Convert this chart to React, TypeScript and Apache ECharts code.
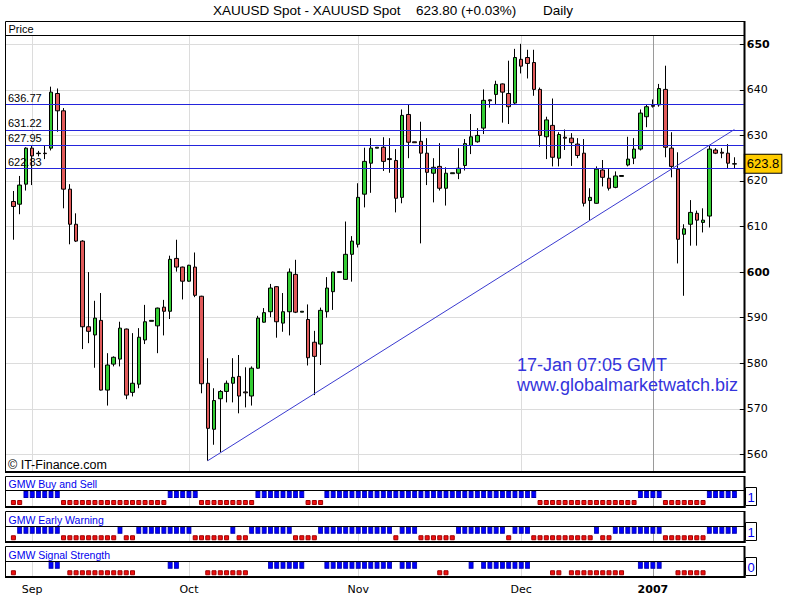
import React, { useEffect, useRef } from "react";
import * as echarts from "echarts";

// One daily candle per slot: [open, close, low, high]
const candles: number[][] = [
  [615.5, 614.4, 607.1, 617.8], // 0
  [614.9, 619.1, 612.7, 621.1],
  [619.3, 627.2, 617.9, 627.4],
  [627.2, 625.5, 619.1, 627.7], // Sep
  [626.0, 626.1, 625.4, 626.6],
  [626.1, 626.0, 624.8, 627.7],
  [627.2, 639.5, 626.7, 640.7],
  [639.2, 635.4, 630.8, 640.3],
  [635.4, 618.2, 614.0, 636.0],
  [618.2, 610.5, 606.1, 619.3],
  [610.5, 606.8, 606.6, 612.9], // 10
  [606.8, 588.0, 583.1, 607.0],
  [588.0, 587.0, 584.4, 600.0],
  [586.2, 589.9, 579.0, 593.7],
  [589.4, 574.1, 574.0, 595.4],
  [574.1, 579.6, 570.7, 582.2],
  [579.8, 581.3, 579.3, 581.5],
  [580.9, 587.7, 579.3, 589.1],
  [587.5, 573.0, 572.1, 587.6],
  [573.6, 575.6, 572.7, 586.6],
  [575.4, 585.7, 574.5, 587.7], // 20
  [585.1, 589.1, 584.2, 592.8],
  [589.2, 589.4, 589.2, 589.4],
  [588.2, 592.1, 582.2, 592.2],
  [592.3, 591.4, 586.1, 593.9],
  [591.4, 602.8, 589.7, 603.6],
  [603.0, 601.1, 600.1, 607.1],
  [601.1, 598.0, 594.0, 601.2],
  [598.0, 601.5, 597.9, 601.6], // Oct
  [601.1, 594.9, 594.5, 604.3],
  [594.7, 575.5, 573.4, 594.8], // 30
  [575.6, 565.7, 558.6, 581.1],
  [565.5, 571.8, 562.1, 574.5],
  [572.2, 573.8, 560.5, 574.1],
  [573.8, 575.6, 571.4, 576.2],
  [575.6, 576.9, 571.4, 581.1],
  [577.1, 572.8, 569.0, 581.8],
  [573.7, 573.5, 570.3, 579.1],
  [572.8, 578.9, 570.7, 579.3],
  [578.9, 589.9, 578.8, 590.4],
  [589.0, 591.1, 588.9, 592.1], // 40
  [591.3, 596.5, 590.1, 597.4],
  [596.8, 589.1, 585.6, 596.9],
  [588.8, 591.3, 586.9, 595.4],
  [591.3, 600.0, 586.1, 600.8],
  [599.5, 591.2, 591.0, 602.7],
  [591.2, 591.4, 591.2, 591.4],
  [589.6, 581.2, 579.5, 592.9],
  [584.6, 581.5, 573.0, 587.1],
  [584.2, 591.6, 579.6, 592.2],
  [591.3, 596.5, 590.0, 598.9], // 50
  [595.7, 600.0, 591.7, 600.1],
  [599.9, 600.1, 599.9, 600.1],
  [598.4, 603.9, 598.3, 611.1],
  [603.9, 606.8, 597.9, 607.9],
  [606.1, 616.4, 605.4, 619.5], // Nov
  [617.1, 624.3, 614.2, 627.3],
  [623.9, 627.2, 617.4, 629.4],
  [627.2, 627.4, 627.2, 627.4],
  [627.4, 624.3, 622.2, 629.6],
  [624.9, 624.7, 621.8, 629.4], // 60
  [624.5, 616.2, 613.1, 627.0],
  [616.4, 634.4, 615.1, 635.7],
  [634.6, 628.5, 625.0, 636.8],
  [628.6, 628.4, 628.4, 628.6],
  [628.7, 626.1, 606.3, 633.0],
  [626.1, 621.9, 619.1, 629.4],
  [621.7, 623.0, 615.3, 625.0],
  [623.2, 618.4, 617.9, 628.3],
  [618.4, 621.7, 614.6, 623.0],
  [621.6, 621.8, 621.6, 621.8], // 70
  [621.7, 622.8, 620.4, 627.2],
  [623.4, 628.2, 622.3, 629.2],
  [627.8, 629.7, 625.9, 634.7],
  [628.6, 630.0, 628.4, 631.6],
  [631.6, 637.7, 630.3, 640.1],
  [637.8, 637.6, 636.1, 637.9],
  [639.0, 641.2, 636.9, 642.0],
  [641.3, 639.5, 632.8, 641.4],
  [639.2, 636.3, 632.5, 646.4],
  [637.1, 647.1, 636.7, 649.0], // 80
  [646.7, 645.2, 643.6, 650.1], // Dec
  [647.1, 645.8, 642.5, 648.8],
  [646.0, 640.1, 638.7, 648.8],
  [640.1, 630.0, 627.5, 640.5],
  [629.7, 633.4, 624.8, 634.1],
  [632.2, 625.2, 623.2, 638.1],
  [625.0, 630.2, 623.2, 630.7],
  [629.6, 629.4, 626.8, 631.3],
  [629.4, 628.4, 623.3, 630.5],
  [628.1, 625.6, 625.0, 629.4], // 90
  [626.1, 615.1, 614.4, 629.2],
  [615.7, 616.4, 611.4, 618.4],
  [615.1, 622.6, 615.0, 623.2],
  [622.4, 620.8, 618.8, 624.6],
  [620.6, 618.4, 617.9, 622.8],
  [618.6, 621.1, 618.4, 622.1],
  [621.0, 621.2, 621.0, 621.2],
  [623.5, 624.8, 623.2, 629.7],
  [625.0, 627.0, 623.7, 629.4],
  [627.0, 634.9, 626.7, 635.7], // 100
  [634.1, 636.3, 631.8, 636.8],
  [636.6, 636.4, 636.1, 637.9], // 2007
  [636.7, 640.3, 636.3, 641.3],
  [640.1, 627.4, 625.2, 645.3],
  [627.2, 623.2, 620.8, 630.7],
  [622.6, 607.2, 601.9, 626.3],
  [608.3, 609.5, 594.8, 610.5],
  [610.5, 613.1, 605.8, 615.8],
  [612.9, 611.4, 605.8, 613.5],
  [610.9, 611.4, 608.7, 614.0], // 110
  [612.3, 627.0, 609.8, 627.7],
  [626.8, 626.1, 625.9, 627.2],
  [626.3, 626.1, 625.0, 627.2],
  [626.1, 623.9, 622.8, 628.1],
  [623.7, 623.8, 622.8, 625.2], // 115
];

const monthTicks = [
  { slot: 3, label: "Sep", bold: false },
  { slot: 28, label: "Oct", bold: false },
  { slot: 55, label: "Nov", bold: false },
  { slot: 81, label: "Dec", bold: false },
  { slot: 102, label: "2007", bold: true },
];

const levelLines = [636.77, 631.22, 627.95, 622.83];
const trendLine = [
  { slot: 31, value: 558.6 },
  { slot: 115, value: 631.3 },
];
const lastPrice = 623.8;
const majorPriceTicks = [650, 600];

// Indicator runs: [fromSlot, toSlot, "B" (blue) | "S" (red)]
const buySellRuns: [number, number, string][] = [
  [0, 1, "S"], [2, 7, "B"], [8, 24, "S"], [25, 29, "B"], [30, 38, "S"], [39, 46, "B"],
  [47, 49, "S"], [50, 83, "B"], [84, 99, "S"], [100, 103, "B"], [104, 110, "S"], [111, 115, "B"],
];
const earlyWarningRuns: [number, number, string][] = [
  [0, 0, "S"], [1, 7, "B"], [8, 16, "S"], [17, 17, "B"], [18, 19, "S"], [20, 28, "B"],
  [29, 34, "S"], [35, 35, "B"], [36, 37, "S"], [38, 44, "B"], [45, 48, "S"], [49, 60, "B"],
  [61, 61, "S"], [62, 64, "B"], [65, 70, "S"], [71, 78, "B"], [79, 79, "S"], [80, 82, "B"],
  [83, 92, "S"], [93, 93, "B"], [94, 95, "S"], [96, 103, "B"], [104, 110, "S"], [111, 115, "B"],
];
const signalStrengthRuns: [number, number, string][] = [
  [0, 0, "S"], [6, 7, "B"], [9, 19, "S"], [25, 26, "B"], [31, 37, "S"], [41, 46, "B"],
  [50, 60, "B"], [62, 64, "B"], [68, 69, "S"], [73, 73, "B"], [75, 82, "B"], [86, 87, "S"],
  [89, 97, "S"], [100, 103, "B"], [106, 110, "S"],
];
const panelTitles = ["GMW Buy and Sell", "GMW Early Warning", "GMW Signal Strength"];
const panelLastValues = ["1", "1", "0"];

const FONT_AXIS = '"DejaVu Sans", Verdana, sans-serif';
const FONT_UI = '"Liberation Sans", Arial, sans-serif';

function expandRuns(runs: [number, number, string][]) {
  const buy: number[][] = [];
  const sell: number[][] = [];
  runs.forEach(([a, b, t]) => {
    for (let i = a; i <= b; i++) {
      if (t === "B") buy.push([i + 1, 1]);
      else sell.push([i + 1, 0]);
    }
  });
  return { buy, sell };
}

function buildOption() {
  const N = candles.length + 2;
  const categories = Array.from({ length: N }, (_, k) => String(k));
  const tickSet = new Set(monthTicks.map((m) => m.slot + 1));
  const gx = { left: 4, right: 56.2, containLabel: false, outerBoundsMode: "none" };

  const panels = [
    { top: 476.5, header: 490.5, bottom: 506.5, box: 487.5, runs: buySellRuns },
    { top: 511.5, header: 526.5, bottom: 541.5, box: 522.5, runs: earlyWarningRuns },
    { top: 546.5, header: 561.5, bottom: 576.5, box: 557.5, runs: signalStrengthRuns },
  ];

  const grids: any[] = [{ ...gx, top: 35.5, height: 436 }];
  panels.forEach((p) => grids.push({ ...gx, top: p.header, height: p.bottom - p.header }));

  const monthLineData = monthTicks.map((m) => ({
    xAxis: m.slot + 1,
    lineStyle: { color: m.bold ? "#9a9a9a" : "#dcdcdc", width: 1, type: "solid" },
  }));
  const monthMarkLine = {
    z: 1,
    silent: true,
    symbol: "none",
    label: { show: false },
    data: monthLineData,
  };

  const xAxes: any[] = [0, 1, 2].map((g) => ({
    type: "category",
    gridIndex: g,
    data: categories,
    boundaryGap: true,
    show: false,
  }));
  xAxes.push({
    type: "category",
    gridIndex: 3,
    data: categories,
    boundaryGap: true,
    axisLine: { show: false },
    splitLine: { show: false },
    axisTick: {
      show: true,
      interval: (i: number) => tickSet.has(i),
      alignWithLabel: true,
      length: 5,
      lineStyle: { color: "#000" },
    },
    axisLabel: {
      show: true,
      interval: (i: number) => tickSet.has(i),
      margin: 7,
      color: "#000",
      fontFamily: FONT_AXIS,
      fontSize: 11,
      formatter: (v: string) => {
        const m = monthTicks.find((t) => t.slot + 1 === Number(v));
        if (!m) return "";
        return m.bold ? `{b|${m.label}}` : m.label;
      },
      rich: { b: { fontWeight: "bold", fontFamily: FONT_AXIS, fontSize: 11, color: "#000" } },
    },
  });

  const yAxes: any[] = [
    {
      type: "value",
      gridIndex: 0,
      position: "right",
      offset: 1,
      min: 556.23,
      max: 651.93,
      splitNumber: 10,
      minInterval: 10,
      maxInterval: 10,
      axisLine: { show: false },
      axisTick: { show: true, inside: true, length: 5, lineStyle: { color: "#000" } },
      axisLabel: {
        margin: 2,
        color: "#000",
        fontFamily: FONT_AXIS,
        fontSize: 11,
        showMinLabel: false,
        showMaxLabel: false,
        formatter: (v: number) => (majorPriceTicks.includes(v) ? `{b|${v}}` : `${v}`),
        rich: { b: { fontWeight: "bold", fontFamily: FONT_AXIS, fontSize: 11, color: "#000" } },
      },
      splitLine: { show: true, lineStyle: { color: "#dcdcdc", width: 1 } },
    },
  ];
  [1, 2, 3].forEach((g) =>
    yAxes.push({ type: "value", gridIndex: g, min: -0.5, max: 1.5, show: false })
  );

  const levelStyle = { color: "#2424dc", width: 1, type: "solid" };
  const trendStyle = { color: "#3a3ad0", width: 1, type: "solid" };

  const series: any[] = [
    {
      type: "candlestick",
      xAxisIndex: 0,
      yAxisIndex: 0,
      barWidth: 4,
      data: candles.map((c, i) => [i + 1, c[0], c[1], c[2], c[3]]),
      encode: { x: 0, y: [1, 2, 3, 4] },
      itemStyle: {
        color: "#33cc33",
        color0: "#e05a5a",
        borderColor: "#000",
        borderColor0: "#000",
        borderColorDoji: "#000",
        borderWidth: 1,
      },
      markLine: {
        silent: true,
        symbol: "none",
        data: [
          ...levelLines.map((v) => ({
            yAxis: v,
            lineStyle: levelStyle,
            label: {
              show: true,
              position: "insideStartTop",
              formatter: v.toFixed(2),
              distance: [4, 1],
              color: "#000",
              fontFamily: FONT_UI,
              fontSize: 11,
            },
          })),
          [
            { coord: [trendLine[0].slot + 1, trendLine[0].value], lineStyle: trendStyle, label: { show: false } },
            { coord: [trendLine[1].slot + 1, trendLine[1].value], lineStyle: trendStyle, label: { show: false } },
          ],
          {
            yAxis: lastPrice,
            lineStyle: { color: "rgba(0,0,0,0)", width: 0 },
            label: {
              show: true,
              position: "end",
              distance: 1,
              formatter: lastPrice.toFixed(1),
              color: "#000",
              fontFamily: FONT_UI,
              fontSize: 13,
              backgroundColor: "#ffcc00",
              borderColor: "#000",
              borderWidth: 1,
              padding: [3, 2, 2, 2],
            },
          },
        ],
      },
    },
    {
      type: "line",
      xAxisIndex: 0,
      yAxisIndex: 0,
      z: 1,
      data: [],
      markLine: monthMarkLine,
    },
  ];

  panels.forEach((p, idx) => {
    const { buy, sell } = expandRuns(p.runs);
    series.push({
      type: "scatter",
      xAxisIndex: idx + 1,
      yAxisIndex: idx + 1,
      symbol: "rect",
      symbolSize: [4, 6],
      data: buy,
      itemStyle: { color: "#0000ff", borderColor: "#0000b0", borderWidth: 1, opacity: 1 },
      markLine: monthMarkLine,
    });
    series.push({
      type: "scatter",
      xAxisIndex: idx + 1,
      yAxisIndex: idx + 1,
      symbol: "rect",
      symbolSize: [4, 4],
      data: sell,
      itemStyle: { color: "#f01010", borderColor: "#a00000", borderWidth: 1, opacity: 1 },
    });
  });

  const line = (x1: number, y1: number, x2: number, y2: number, w = 1) => ({
    type: "line",
    silent: true,
    z: 10,
    shape: { x1, y1, x2, y2 },
    style: { stroke: "#000", lineWidth: w },
  });
  const text = (x: number, y: number, t: string, font: string, fill = "#000") => ({
    type: "text",
    silent: true,
    z: 11,
    x,
    y,
    style: {
      text: t,
      font,
      fill,
      textAlign: "left",
      textVerticalAlign: "middle",
      align: "left",
      verticalAlign: "middle",
    },
  });

  const graphics: any[] = [
    { type: "rect", silent: true, z: 9, shape: { x: 0, y: 30, width: 5, height: 450 }, style: { fill: "#fff" } },
    // main price box
    line(5.5, 21.5, 744.5, 21.5),
    line(5.5, 21.5, 5.5, 472),
    line(5.5, 35.5, 744.5, 35.5),
    line(744.5, 21, 744.5, 473, 2),
    line(5, 472, 745.5, 472, 2),
    text(213, 10.5, "XAUUSD Spot - XAUUSD Spot", `13.5px ${FONT_UI}`),
    text(416, 10.5, "623.80 (+0.03%)", `13.5px ${FONT_UI}`),
    text(543, 10.5, "Daily", `13.5px ${FONT_UI}`),
    text(8.5, 28.5, "Price", `11px ${FONT_UI}`),
    text(8, 464.5, "© IT-Finance.com", `12.5px ${FONT_UI}`),
    text(517, 364.5, "17-Jan 07:05 GMT", `18px ${FONT_UI}`, "#3434dc"),
    text(517, 384.5, "www.globalmarketwatch.biz", `18px ${FONT_UI}`, "#3434dc"),
  ];
  panels.forEach((p, idx) => {
    graphics.push(
      line(5.5, p.top, 744.5, p.top),
      line(5.5, p.header, 744.5, p.header),
      line(5.5, p.top, 5.5, p.bottom),
      line(744.5, p.top - 0.5, 744.5, p.bottom + 1.5, 2),
      line(5, p.bottom + 0.5, 745.5, p.bottom + 0.5, 2),
      {
        type: "rect",
        silent: true,
        z: 10,
        shape: { x: 745.5, y: p.box, width: 11, height: 18 },
        style: { fill: "#fff", stroke: "#000", lineWidth: 1 },
      },
      text(8.5, (p.top + p.header) / 2 + 0.5, panelTitles[idx], `10.5px ${FONT_UI}`, "#0000ee"),
      text(747.5, p.box + 9.5, panelLastValues[idx], `13px ${FONT_UI}`, "#0000ee")
    );
  });

  return {
    animation: false,
    backgroundColor: "#ffffff",
    grid: grids,
    xAxis: xAxes,
    yAxis: yAxes,
    series,
    graphic: { elements: graphics },
  };
}

export default function App() {
  const ref = useRef<HTMLDivElement>(null);
  useEffect(() => {
    if (!ref.current) return;
    const chart = echarts.init(ref.current, null, { renderer: "svg" });
    chart.setOption(buildOption() as any);
    return () => chart.dispose();
  }, []);
  return (
    <div
      ref={ref}
      style={{ position: "fixed", left: 0, top: 0, width: 800, height: 600, background: "#fff" }}
    />
  );
}
